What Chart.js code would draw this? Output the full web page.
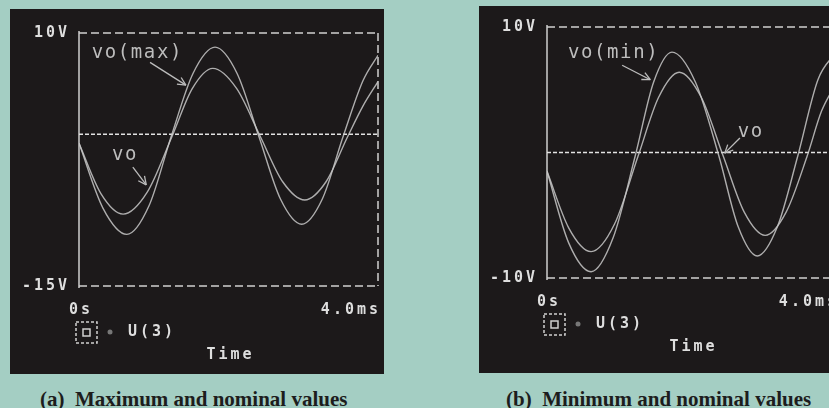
<!DOCTYPE html>
<html>
<head>
<meta charset="utf-8">
<script src="https://cdn.jsdelivr.net/npm/chart.js@4.4.1/dist/chart.umd.min.js"></script>
<style>
  html, body { margin: 0; padding: 0; width: 829px; height: 408px; overflow: hidden; background: #a4cec3; }
  .panel { position: absolute; background: #1c191a; }
  #panelA { left: 10px; top: 9px; width: 374px; height: 365px; }
  #panelB { left: 479px; top: 6px; width: 370px; height: 367px; }
  .caption { position: absolute; top: 387px; line-height: 21px; font: bold 21px "Liberation Serif", serif; color: #1d1d1d; white-space: pre; }
</style>
</head>
<body>
<div class="panel" id="panelA"><canvas id="chartA"></canvas></div>
<div class="panel" id="panelB"><canvas id="chartB"></canvas></div>
<div class="caption" style="left:40px">(a)  Maximum and nominal values</div>
<div class="caption" style="left:506px">(b)  Minimum and nominal values</div>
<script>
// time in ms, voltage in V
const xTickLabels = ['0s', '4.0ms'];

// (a) maximum and nominal
const yTicksA = [10, -15];
const timeMaxA = [0, 0.32, 0.64, 0.935, 1.23, 1.525, 1.82, 2.115, 2.41, 2.695, 2.98, 3.255, 3.53, 3.8, 4.0];
const vMaxA    = [-0.9, -7.3, -9.9, -7.1, -0.3, 6.0, 8.6, 6.0, -0.3, -6.4, -8.9, -6.4, -0.3, 5.3, 7.8];
const timeNomA = [0, 0.295, 0.59, 0.915, 1.24, 1.515, 1.79, 2.11, 2.43, 2.725, 3.02, 3.305, 3.59, 3.8, 4.0];
const vNomA    = [-0.9, -5.9, -7.9, -5.7, -0.3, 4.5, 6.5, 4.5, -0.3, -4.7, -6.5, -4.7, -0.3, 2.8, 5.2];

// (b) minimum and nominal
const yTicksB = [10, -10];
const timeMinB = [0, 0.3, 0.61, 0.915, 1.22, 1.475, 1.73, 2.055, 2.38, 2.645, 2.91, 3.19, 3.47, 3.75, 4.0];
const vMinB    = [-1.5, -7.2, -9.5, -6.8, -0.3, 5.6, 8.0, 5.6, -0.3, -5.9, -8.25, -5.9, -0.3, 5.8, 8.0];
const timeNomB = [0, 0.3, 0.61, 0.935, 1.26, 1.545, 1.83, 2.135, 2.44, 2.73, 3.02, 3.31, 3.6, 3.8, 4.0];
const vNomB    = [-1.5, -6.0, -7.9, -5.7, -0.3, 4.4, 6.4, 4.4, -0.3, -4.75, -6.6, -4.75, -0.3, 3.3, 5.5];

const toPoints = (t, v) => t.map((x, i) => ({ x: x, y: v[i] }));

function seg(ctx, x1, y1, x2, y2) {
  ctx.beginPath(); ctx.moveTo(x1, y1); ctx.lineTo(x2, y2); ctx.stroke();
}

function arrow(ctx, x1, y1, x2, y2) {
  seg(ctx, x1, y1, x2, y2);
  const a = Math.atan2(y2 - y1, x2 - x1);
  for (const d of [-0.45, 0.45]) {
    seg(ctx, x2, y2, x2 - 9 * Math.cos(a + d), y2 - 9 * Math.sin(a + d));
  }
}

function text(ctx, s, x, y, align, spacing) {
  ctx.letterSpacing = spacing + 'px';
  ctx.textAlign = align;
  ctx.fillText(s, align === 'right' ? x + spacing : x, y);
}

const probe = {
  id: 'probe',
  beforeDatasetsDraw(chart, args, o) {
    const { ctx, chartArea: a, scales: { y } } = chart;
    ctx.save();
    ctx.strokeStyle = '#cfcfcf';
    ctx.lineWidth = 1.5;
    seg(ctx, a.left, a.top - 2, a.left, a.bottom + 2);
    ctx.setLineDash([8, 4]);
    seg(ctx, a.left, a.top, a.right, a.top);
    seg(ctx, a.left, a.bottom, a.right, a.bottom);
    seg(ctx, a.right, a.top, a.right, a.bottom);
    ctx.setLineDash([4, 2]);
    ctx.strokeStyle = '#e2e2e2';
    const y0 = y.getPixelForValue(0);
    seg(ctx, a.left, y0, a.right, y0);
    ctx.restore();
  },
  afterDraw(chart, args, o) {
    const { ctx, chartArea: a, scales: { x, y } } = chart;
    ctx.save();
    ctx.fillStyle = '#dedede';
    ctx.textBaseline = 'middle';
    ctx.font = 'bold 15px "DejaVu Sans Mono"';
    o.yTicks.forEach(v => text(ctx, v + 'V', a.left - 12, y.getPixelForValue(v), 'right', 3));
    text(ctx, o.xTicks[0], x.getPixelForValue(0) - 10, a.bottom + 24, 'left', 3);
    text(ctx, o.xTicks[1], x.getPixelForValue(4), a.bottom + 24, 'right', 3);
    text(ctx, 'U(3)', a.left + 49, a.bottom + 46, 'left', 3);
    text(ctx, 'Time', (a.left + a.right) / 2 - 22, a.bottom + 69, 'left', 3);

    // legend symbol
    ctx.strokeStyle = '#d0d0d0';
    ctx.lineWidth = 1.5;
    ctx.setLineDash([3, 2]);
    ctx.strokeRect(a.left - 3, a.bottom + 36, 21, 21);
    ctx.setLineDash([]);
    ctx.strokeRect(a.left + 4, a.bottom + 43, 7, 7);
    ctx.fillStyle = '#777';
    ctx.beginPath(); ctx.arc(a.left + 31, a.bottom + 46, 2.5, 0, Math.PI * 2); ctx.fill();

    // curve labels
    ctx.fillStyle = '#bdbdbd';
    ctx.strokeStyle = '#bdbdbd';
    ctx.lineWidth = 1.3;
    ctx.font = '19px "DejaVu Sans Mono"';
    o.notes.forEach(n => {
      text(ctx, n.label, x.getPixelForValue(n.at[0]), y.getPixelForValue(n.at[1]), 'left', 1.6);
      arrow(ctx, x.getPixelForValue(n.from[0]), y.getPixelForValue(n.from[1]),
                 x.getPixelForValue(n.to[0]), y.getPixelForValue(n.to[1]));
    });
    ctx.restore();
  }
};

function makeChart(id, yTicks, series, padding, notes) {
  return new Chart(document.getElementById(id), {
    type: 'line',
    data: {
      datasets: series.map(s => ({
        label: s.label,
        data: s.data,
        borderColor: 'rgba(200,200,200,0.85)',
        borderWidth: 1.4,
        pointRadius: 0,
        cubicInterpolationMode: 'monotone',
        fill: false
      }))
    },
    options: {
      responsive: true,
      maintainAspectRatio: false,
      animation: false,
      layout: { padding: padding },
      scales: {
        x: { type: 'linear', min: 0, max: 4, display: false },
        y: { min: yTicks[1], max: yTicks[0], display: false }
      },
      plugins: {
        legend: { display: false },
        tooltip: { enabled: false },
        probe: { yTicks: yTicks, xTicks: xTickLabels, notes: notes }
      }
    },
    plugins: [probe]
  });
}

makeChart('chartA', yTicksA, [
  { label: 'vo(max)', data: toPoints(timeMaxA, vMaxA) },
  { label: 'vo', data: toPoints(timeNomA, vNomA) }
], { left: 69, right: 6, top: 24, bottom: 88 }, [
  { label: 'vo(max)', at: [0.17, 8.0], from: [0.95, 7.1], to: [1.43, 4.85] },
  { label: 'vo', at: [0.44, -2.1], from: [0.72, -3.25], to: [0.9, -5.0] }
]);

makeChart('chartB', yTicksB, [
  { label: 'vo(min)', data: toPoints(timeMinB, vMinB) },
  { label: 'vo', data: toPoints(timeNomB, vNomB) }
], { left: 68, right: 13, top: 21, bottom: 95 }, [
  { label: 'vo(min)', at: [0.29, 7.9], from: [1.04, 6.95], to: [1.43, 5.8] },
  { label: 'vo', at: [2.64, 1.6], from: [2.67, 1.15], to: [2.46, -0.05] }
]);
</script>
</body>
</html>
